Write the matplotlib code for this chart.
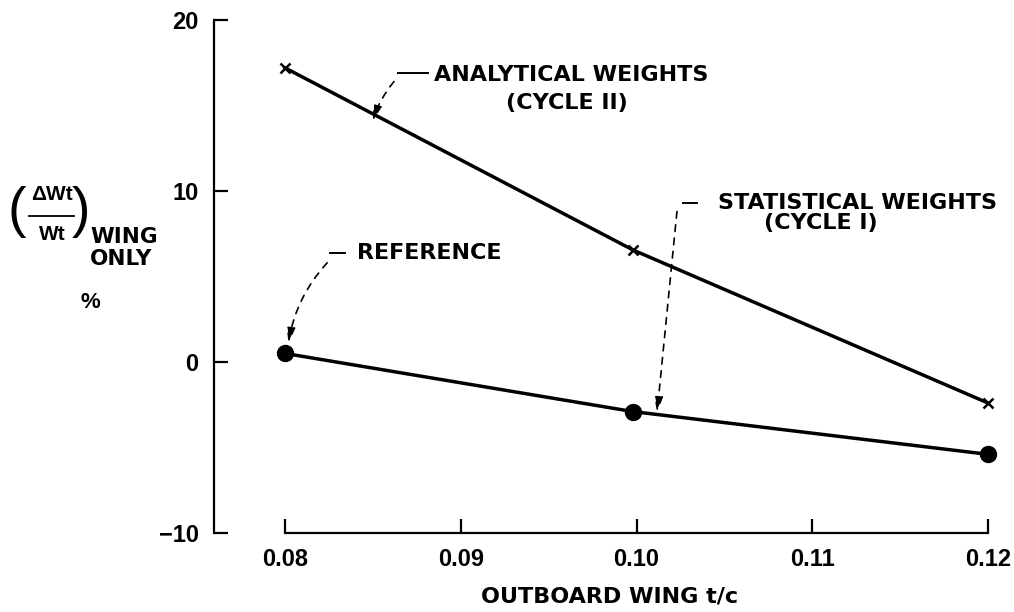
import numpy as np
import matplotlib
matplotlib.use('Agg')
import matplotlib.pyplot as plt
from matplotlib.lines import Line2D

plt.rcParams['font.family'] = ['Liberation Sans', 'DejaVu Sans']
plt.rcParams['font.weight'] = 'bold'

# values
tc = [0.08, 0.0998, 0.12]
analytical = [17.2, 6.55, -2.4]
reference = [0.5, -2.9, -5.4]
x_ticks = [0.08, 0.09, 0.10, 0.11, 0.12]
x_labels = ['0.08', '0.09', '0.10', '0.11', '0.12']
y_ticks = [-10, 0, 10, 20]
y_labels = ['\u221210', '0', '10', '20']

W, H = 1014, 612
fig = plt.figure(figsize=(W / 100, H / 100), dpi=100)
ax = fig.add_axes([214 / W, 1 - 533 / H, (1000 - 214) / W, (533 - 20) / H])

ax.plot(tc, analytical, color='black', lw=2.5, marker='x', ms=7, mew=1.8)
ax.plot(tc, reference, color='black', lw=2.5, marker='o', ms=11.5)

ax.set_xlim(0.07596, 0.12068)
ax.set_ylim(-10, 20)
ax.spines['top'].set_visible(False)
ax.spines['right'].set_visible(False)
ax.spines['bottom'].set_bounds(0.08, 0.12)
ax.spines['left'].set_bounds(-10, 20)
for s in ['bottom', 'left']:
    ax.spines[s].set_linewidth(1.6)

ax.set_xticks(x_ticks)
ax.set_xticklabels(x_labels)
ax.set_yticks(y_ticks)
ax.set_yticklabels(y_labels)
ax.tick_params(axis='both', direction='in', length=10, width=1.6, labelsize=17)
ax.tick_params(axis='x', pad=11)
ax.tick_params(axis='y', pad=11)

wide = ['DejaVu Sans']
fig.text(610 / W, 1 - 597 / H, 'OUTBOARD WING t/c', ha='center', va='center',
         fontsize=16, fontweight='bold', family=wide)

# y axis label, built up piece by piece
fig.text(17 / W, 1 - 212 / H, '(', ha='center', va='center', fontsize=40,
         fontweight='normal')
fig.text(81 / W, 1 - 212 / H, ')', ha='center', va='center', fontsize=40,
         fontweight='normal')
fig.text(52 / W, 1 - 194 / H, '\u0394Wt', ha='center', va='center', fontsize=15)
fig.text(52 / W, 1 - 235 / H, 'Wt', ha='center', va='center', fontsize=15)
fig.add_artist(Line2D([29 / W, 74 / W], [1 - 216 / H, 1 - 216 / H],
                      color='black', lw=1.3))
fig.text(90 / W, 1 - 237 / H, 'WING', ha='left', va='center', fontsize=15.5,
         family=wide)
fig.text(90 / W, 1 - 259 / H, 'ONLY', ha='left', va='center', fontsize=15.5,
         family=wide)
fig.text(90 / W, 1 - 302 / H, '%', ha='center', va='center', fontsize=16)

# curve labels and leaders
txt = dict(fontsize=16, fontweight='bold', va='center', family=wide)
ax.text(0.08848, 16.8, 'ANALYTICAL WEIGHTS', ha='left', **txt)
ax.text(0.09605, 15.15, '(CYCLE II)', ha='center', **txt)
ax.text(0.10464, 9.3, 'STATISTICAL WEIGHTS', ha='left', **txt)
ax.text(0.1105, 8.15, '(CYCLE I)', ha='center', **txt)
ax.text(0.0841, 6.37, 'REFERENCE', ha='left', **txt)

dash = dict(color='black', lw=1.4)
ax.plot([0.08643, 0.08814], [16.9, 16.9], **dash)
ax.plot([0.10265, 0.10344], [9.3, 9.3], **dash)
ax.plot([0.08256, 0.08341], [6.4, 6.4], **dash)

arrow = dict(arrowstyle='-|>,head_length=0.9,head_width=0.25', color='black',
             lw=1.2, linestyle=(0, (4, 4)), shrinkA=0, shrinkB=0)
ax.annotate('', xy=(0.0850, 14.1), xytext=(0.0862, 16.4),
            arrowprops=dict(connectionstyle='arc3,rad=0.1', **arrow))
ax.annotate('', xy=(0.10117, -2.95), xytext=(0.1023, 8.8),
            arrowprops=dict(connectionstyle='arc3,rad=0.0', **arrow))
ax.annotate('', xy=(tc[0] + 0.0002, reference[0] + 0.6), xytext=(0.0824, 5.8),
            arrowprops=dict(connectionstyle='arc3,rad=0.15', **arrow))

fig.savefig('out.png', dpi=100)
